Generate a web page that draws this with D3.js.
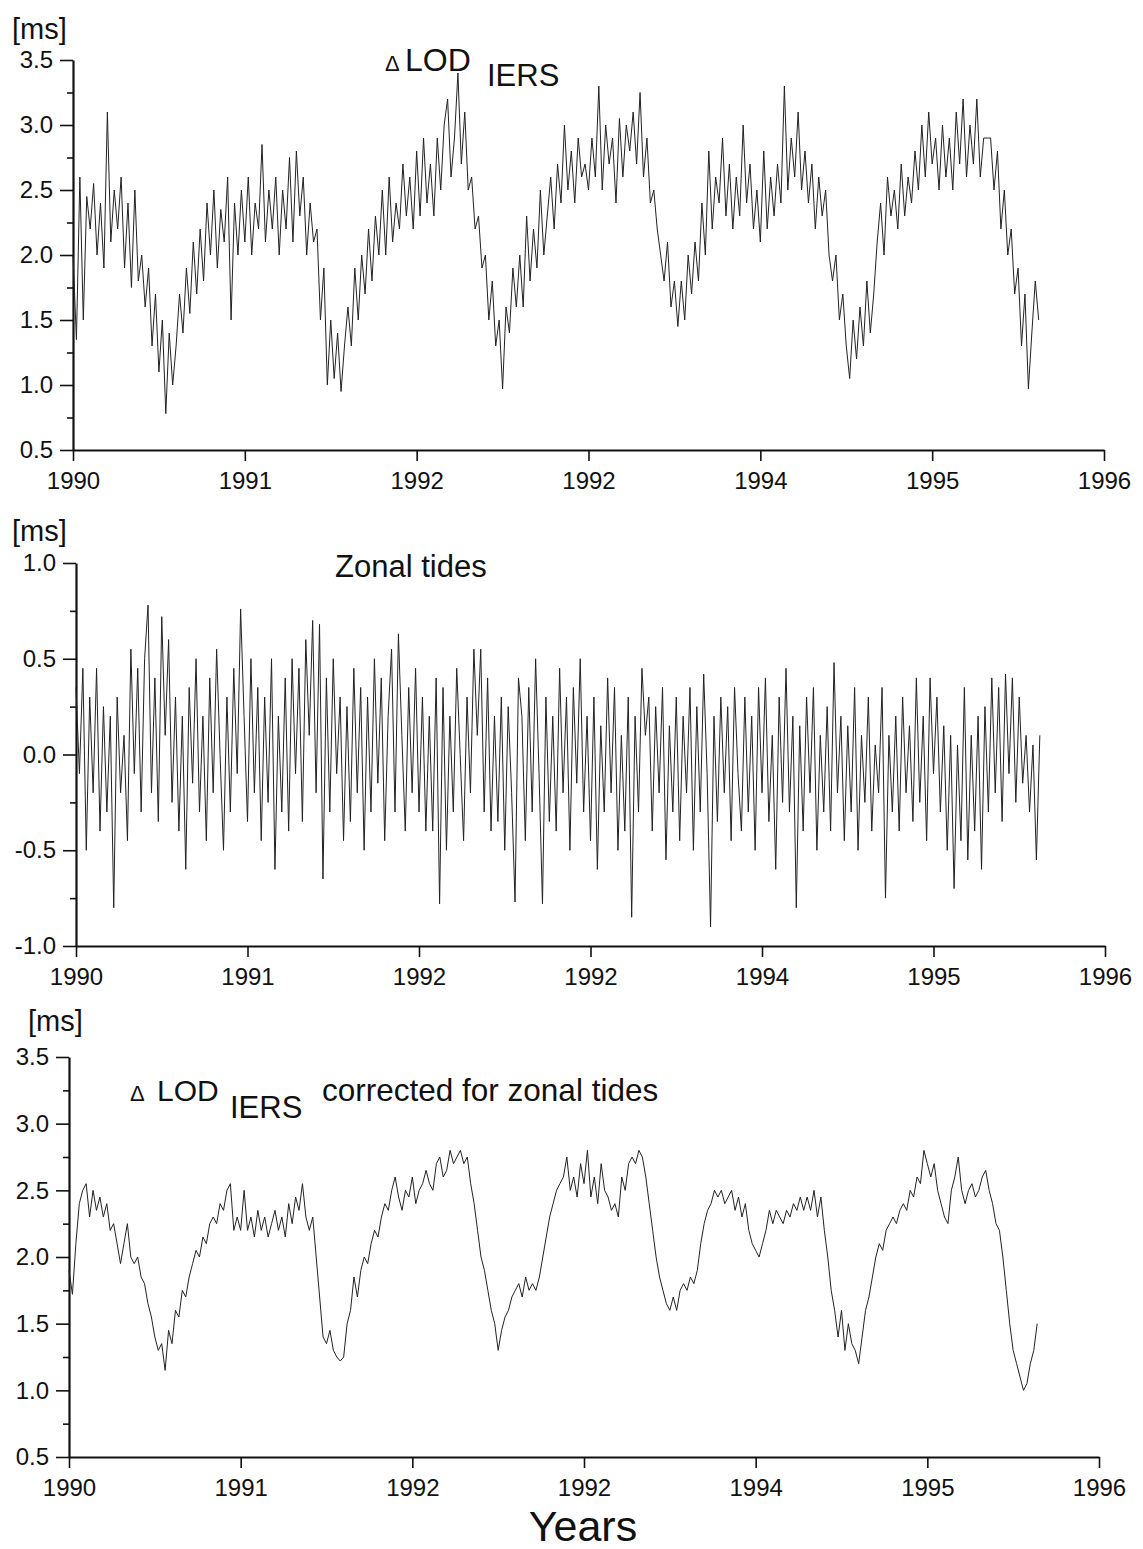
<!DOCTYPE html>
<html>
<head>
<meta charset="utf-8">
<script src="https://cdn.jsdelivr.net/npm/d3@7"></script>
<style>
  body { margin: 0; background: #fff; }
  svg { display: block; }
  text { font-family: "Liberation Sans", Arial, sans-serif; fill: #111; }
</style>
</head>
<body>
<div id="viz"></div>
<script>
// page size
let w = 1143;
let h = 1549;

// sampling of the series (years)
let startYear = 1990;
let step = 0.02;

// x axis
let xTicks = [1990, 1991, 1992, 1993, 1994, 1995, 1996];
let xTickLabels = ["1990", "1991", "1992", "1992", "1994", "1995", "1996"];

// y axis ticks
let lodTicks = [0.5, 1.0, 1.5, 2.0, 2.5, 3.0, 3.5];
let lodMinor = [0.75, 1.25, 1.75, 2.25, 2.75, 3.25];
let tideTicks = [-1.0, -0.5, 0.0, 0.5, 1.0];
let tideMinor = [-0.75, -0.25, 0.25, 0.75];

// Delta LOD IERS [ms], one value every 0.02 yr from 1990.0
let lodIers = [
  // 1990
  2.0, 1.35, 2.6, 1.5, 2.45, 2.2, 2.55, 2.0, 2.4, 1.9,
  3.1, 2.1, 2.5, 2.2, 2.6, 1.9, 2.4, 1.75, 2.5, 1.8,
  2.0, 1.6, 1.9, 1.3, 1.7, 1.1, 1.5, 0.78, 1.4, 1.0,
  1.3, 1.7, 1.4, 1.9, 1.55, 2.1, 1.7, 2.2, 1.8, 2.4,
  2.0, 2.5, 1.9, 2.35, 2.1, 2.6, 1.5, 2.4, 2.0, 2.5,
  // 1991
  2.1, 2.6, 2.0, 2.4, 2.2, 2.85, 2.1, 2.5, 2.2, 2.6,
  2.0, 2.5, 2.2, 2.75, 2.1, 2.8, 2.3, 2.6, 2.0, 2.4,
  2.1, 2.2, 1.5, 1.9, 1.0, 1.5, 1.05, 1.4, 0.95, 1.3,
  1.6, 1.3, 1.9, 1.5, 2.0, 1.7, 2.2, 1.8, 2.3, 2.0,
  2.5, 2.0, 2.6, 2.1, 2.4, 2.2, 2.7, 2.3, 2.6, 2.2,
  // 1992
  2.8, 2.3, 2.9, 2.4, 2.7, 2.3, 2.9, 2.5, 3.0, 3.2,
  2.6, 2.9, 3.4, 2.7, 3.1, 2.5, 2.6, 2.2, 2.3, 1.9,
  2.0, 1.5, 1.8, 1.3, 1.5, 0.97, 1.6, 1.4, 1.9, 1.6,
  2.0, 1.6, 2.3, 1.8, 2.2, 1.9, 2.5, 2.0, 2.3, 2.6,
  2.2, 2.7, 2.4, 3.0, 2.5, 2.8, 2.4, 2.9, 2.6, 2.7,
  // 1993
  2.5, 2.9, 2.6, 3.3, 2.5, 3.0, 2.7, 2.9, 2.4, 3.05,
  2.6, 3.0, 2.8, 3.1, 2.7, 3.25, 2.6, 2.9, 2.4, 2.5,
  2.2, 2.0, 1.8, 2.1, 1.6, 1.8, 1.45, 1.8, 1.5, 2.0,
  1.7, 2.1, 1.8, 2.4, 2.0, 2.8, 2.2, 2.6, 2.4, 2.9,
  2.3, 2.7, 2.2, 2.6, 2.3, 3.0, 2.4, 2.7, 2.2, 2.5,
  // 1994
  2.1, 2.8, 2.2, 2.6, 2.3, 2.7, 2.4, 3.3, 2.5, 2.9,
  2.6, 3.1, 2.5, 2.8, 2.4, 2.7, 2.2, 2.6, 2.3, 2.5,
  2.0, 1.8, 2.0, 1.5, 1.7, 1.3, 1.05, 1.5, 1.2, 1.6,
  1.3, 1.8, 1.4, 1.7, 2.1, 2.4, 2.0, 2.6, 2.3, 2.5,
  2.2, 2.7, 2.3, 2.6, 2.4, 2.8, 2.5, 3.0, 2.6, 3.1,
  // 1995
  2.7, 2.9, 2.5, 3.0, 2.6, 2.9, 2.5, 3.1, 2.7, 3.2,
  2.6, 3.0, 2.7, 3.2, 2.6, 2.9, 2.9, 2.9, 2.5, 2.8,
  2.2, 2.5, 2.0, 2.2, 1.7, 1.9, 1.3, 1.7, 0.97, 1.4,
  1.8, 1.5
];

// zonal tides [ms]
let zonalTides = [
  // 1990
  0.35, -0.1, 0.45, -0.5, 0.3, -0.2, 0.45, -0.4, 0.25, -0.3,
  0.2, -0.8, 0.3, -0.2, 0.1, -0.45, 0.55, -0.1, 0.45, -0.3,
  0.5, 0.78, -0.2, 0.4, -0.35, 0.72, 0.1, 0.6, -0.25, 0.3,
  -0.4, 0.2, -0.6, 0.35, -0.15, 0.5, -0.3, 0.2, -0.45, 0.4,
  -0.2, 0.55, 0.0, -0.5, 0.3, -0.3, 0.45, -0.1, 0.76, 0.2,
  // 1991
  -0.35, 0.5, -0.2, 0.35, -0.45, 0.3, -0.25, 0.5, -0.6, 0.2,
  -0.3, 0.4, -0.4, 0.5, -0.1, 0.45, -0.35, 0.6, 0.1, 0.7,
  -0.2, 0.68, -0.65, 0.4, -0.3, 0.5, -0.1, 0.3, -0.45, 0.25,
  -0.35, 0.45, -0.2, 0.35, -0.5, 0.3, -0.3, 0.5, -0.15, 0.4,
  -0.45, 0.2, 0.55, -0.3, 0.63, 0.1, -0.4, 0.35, -0.2, 0.45,
  // 1992
  -0.3, 0.3, -0.4, 0.2, -0.4, 0.4, -0.78, 0.35, -0.5, 0.2,
  -0.3, 0.45, 0.0, -0.45, 0.3, -0.2, 0.55, 0.1, 0.55, -0.3,
  0.4, -0.4, 0.2, -0.35, 0.3, -0.5, 0.25, -0.2, -0.77, 0.4,
  0.2, -0.45, 0.35, -0.3, 0.5, -0.1, -0.78, 0.3, -0.35, 0.2,
  -0.4, 0.45, -0.2, 0.3, -0.5, 0.35, -0.15, 0.5, -0.3, 0.2,
  // 1993
  -0.45, 0.3, -0.6, 0.15, -0.3, 0.4, -0.2, 0.35, -0.5, 0.1,
  -0.4, 0.3, -0.85, 0.2, -0.3, 0.45, 0.1, 0.3, -0.4, 0.25,
  -0.2, 0.35, -0.55, 0.15, -0.3, 0.3, -0.45, 0.2, -0.2, 0.35,
  -0.5, 0.25, -0.3, 0.42, -0.1, -0.9, 0.2, -0.35, 0.3, -0.2,
  0.25, -0.45, 0.35, -0.1, -0.4, 0.3, -0.3, 0.2, -0.5, 0.35,
  // 1994
  -0.2, 0.4, -0.35, 0.1, -0.6, 0.3, -0.25, 0.45, -0.3, 0.2,
  -0.8, 0.15, -0.4, 0.3, -0.2, 0.35, -0.5, 0.1, -0.3, 0.25,
  -0.4, 0.48, -0.2, 0.2, -0.45, 0.15, -0.3, 0.35, -0.5, 0.1,
  -0.25, 0.3, -0.4, 0.05, -0.2, 0.35, -0.75, 0.1, -0.3, 0.2,
  -0.4, 0.3, -0.2, 0.15, -0.35, 0.4, -0.25, 0.2, -0.45, 0.4,
  // 1995
  -0.1, 0.3, -0.3, 0.15, -0.5, 0.1, -0.7, 0.05, -0.45, 0.35,
  -0.55, 0.1, -0.4, 0.2, -0.6, 0.25, -0.3, 0.4, -0.2, 0.35,
  -0.35, 0.42, -0.1, 0.4, -0.25, 0.3, -0.15, 0.1, -0.3, 0.05,
  -0.55, 0.1
];

// Delta LOD IERS corrected for zonal tides [ms]
let lodCorrected = [
  // 1990
  1.9, 1.72, 2.1, 2.4, 2.5, 2.55, 2.3, 2.5, 2.35, 2.45,
  2.3, 2.4, 2.2, 2.25, 2.1, 1.95, 2.1, 2.25, 2.0, 1.95,
  2.0, 1.85, 1.8, 1.65, 1.55, 1.4, 1.3, 1.35, 1.15, 1.45,
  1.35, 1.6, 1.55, 1.75, 1.7, 1.85, 1.95, 2.05, 2.0, 2.15,
  2.1, 2.25, 2.3, 2.25, 2.4, 2.35, 2.5, 2.55, 2.2, 2.3,
  // 1991
  2.2, 2.5, 2.2, 2.3, 2.15, 2.35, 2.2, 2.3, 2.15, 2.25,
  2.35, 2.2, 2.3, 2.15, 2.4, 2.25, 2.45, 2.35, 2.55, 2.3,
  2.2, 2.3, 2.0, 1.7, 1.4, 1.35, 1.45, 1.3, 1.25, 1.22,
  1.25, 1.5, 1.6, 1.85, 1.7, 1.9, 2.0, 1.95, 2.1, 2.2,
  2.15, 2.3, 2.4, 2.35, 2.5, 2.6, 2.45, 2.35, 2.5, 2.45,
  // 1992
  2.6, 2.4, 2.5, 2.55, 2.65, 2.55, 2.5, 2.7, 2.75, 2.6,
  2.65, 2.8, 2.7, 2.75, 2.8, 2.7, 2.75, 2.55, 2.4, 2.2,
  2.0, 1.9, 1.75, 1.6, 1.5, 1.3, 1.45, 1.55, 1.6, 1.7,
  1.75, 1.8, 1.7, 1.85, 1.75, 1.8, 1.75, 1.85, 2.0, 2.15,
  2.3, 2.4, 2.5, 2.55, 2.6, 2.75, 2.5, 2.6, 2.45, 2.7,
  // 1993
  2.55, 2.8, 2.45, 2.6, 2.4, 2.7, 2.5, 2.45, 2.35, 2.4,
  2.3, 2.6, 2.5, 2.7, 2.75, 2.7, 2.8, 2.75, 2.6, 2.4,
  2.2, 2.0, 1.85, 1.75, 1.65, 1.6, 1.7, 1.6, 1.75, 1.8,
  1.75, 1.85, 1.8, 1.9, 2.1, 2.25, 2.35, 2.4, 2.5, 2.45,
  2.5, 2.4, 2.45, 2.5, 2.35, 2.45, 2.3, 2.4, 2.2, 2.1,
  // 1994
  2.05, 2.0, 2.1, 2.2, 2.35, 2.25, 2.35, 2.3, 2.25, 2.35,
  2.3, 2.4, 2.35, 2.45, 2.35, 2.45, 2.35, 2.5, 2.3, 2.45,
  2.2, 2.0, 1.75, 1.6, 1.4, 1.6, 1.3, 1.5, 1.35, 1.3,
  1.2, 1.4, 1.6, 1.7, 1.85, 2.0, 2.1, 2.05, 2.2, 2.25,
  2.3, 2.25, 2.35, 2.4, 2.35, 2.5, 2.45, 2.6, 2.55, 2.8,
  // 1995
  2.7, 2.6, 2.7, 2.5, 2.4, 2.3, 2.25, 2.5, 2.6, 2.75,
  2.5, 2.4, 2.5, 2.55, 2.45, 2.5, 2.6, 2.65, 2.5, 2.4,
  2.25, 2.2, 2.0, 1.75, 1.5, 1.3, 1.2, 1.1, 1.0, 1.05,
  1.2, 1.3, 1.5
];

// panel layout
let panels = [
  { data: lodIers, domain: [0.5, 3.5], major: lodTicks, minor: lodMinor,
    left: 73, right: 1104, top: 60, bottom: 450, msX: 12, msY: 39 },
  { data: zonalTides, domain: [-1.0, 1.0], major: tideTicks, minor: tideMinor,
    left: 76, right: 1105, top: 563, bottom: 946, msX: 12, msY: 541 },
  { data: lodCorrected, domain: [0.5, 3.5], major: lodTicks, minor: lodMinor,
    left: 69, right: 1099, top: 1057, bottom: 1457, msX: 28, msY: 1031 }
];

let viz = d3.select("#viz")
  .append("svg")
    .attr("width", w)
    .attr("height", h)
;

panels.forEach(function(p){
  let x = d3.scaleLinear().domain([1990, 1996]).range([p.left, p.right]);
  let y = d3.scaleLinear().domain(p.domain).range([p.bottom, p.top]);

  // y axis: major ticks with labels, minor ticks without
  let yAxis = d3.axisLeft(y)
    .tickValues(p.major)
    .tickFormat(function(d){ return d.toFixed(1); })
    .tickSize(13)
    .tickSizeOuter(0)
    .tickPadding(7);
  let yg = viz.append("g").attr("transform", "translate(" + p.left + ",0)").call(yAxis);

  let yMinor = d3.axisLeft(y).tickValues(p.minor).tickFormat("").tickSize(6).tickSizeOuter(0);
  viz.append("g").attr("transform", "translate(" + p.left + ",0)").call(yMinor)
    .select(".domain").remove();

  // x axis
  let xAxis = d3.axisBottom(x)
    .tickValues(xTicks)
    .tickFormat(function(d, i){ return xTickLabels[i]; })
    .tickSize(11)
    .tickSizeOuter(0)
    .tickPadding(11);
  let xg = viz.append("g").attr("transform", "translate(0," + p.bottom + ")").call(xAxis);

  [yg, xg].forEach(function(g){
    g.selectAll(".domain").attr("stroke", "#111").attr("stroke-width", 2.2);
    g.selectAll("text").style("font-size", "24px").attr("fill", "#111");
  });
  viz.selectAll("g").selectAll(".tick line").attr("stroke", "#111").attr("stroke-width", 1.6);

  // the series
  let line = d3.line()
    .x(function(d, i){ return x(startYear + i * step); })
    .y(function(d){ return y(d); });

  viz.append("path")
    .datum(p.data)
    .attr("d", line)
    .attr("fill", "none")
    .attr("stroke", "#222")
    .attr("stroke-width", 1)
    .attr("stroke-linejoin", "miter");

  // unit label
  viz.append("text")
    .attr("x", p.msX)
    .attr("y", p.msY)
    .style("font-size", "29px")
    .text("[ms]");
});

// panel titles
let t1 = viz.append("text").attr("y", 71).style("font-size", "32px");
t1.append("tspan").attr("x", 385).style("font-size", "22px").text("\u0394");
t1.append("tspan").attr("x", 405).text("LOD");
t1.append("tspan").attr("x", 487).attr("dy", 15).style("font-size", "31px").text("IERS");

viz.append("text")
  .attr("x", 335)
  .attr("y", 577)
  .style("font-size", "31px")
  .text("Zonal tides");

let t3 = viz.append("text").attr("y", 1101).style("font-size", "30px");
t3.append("tspan").attr("x", 130).style("font-size", "22px").text("\u0394");
t3.append("tspan").attr("x", 157).text("LOD");
t3.append("tspan").attr("x", 230).attr("dy", 17).style("font-size", "31px").text("IERS");
t3.append("tspan").attr("x", 322).attr("dy", -17).style("font-size", "31.5px").text("corrected for zonal tides");

viz.append("text")
  .attr("x", 583)
  .attr("y", 1541)
  .attr("text-anchor", "middle")
  .style("font-size", "43px")
  .text("Years");
</script>
</body>
</html>
